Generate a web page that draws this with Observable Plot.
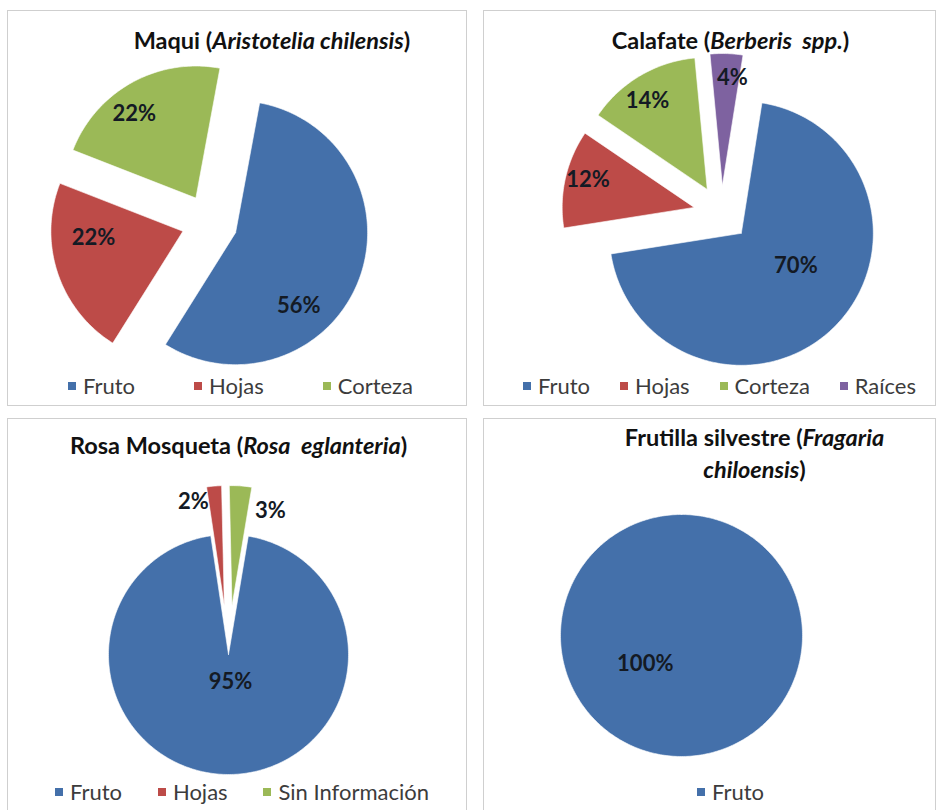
<!DOCTYPE html>
<html><head><meta charset="utf-8">
<script src="https://cdn.jsdelivr.net/npm/d3@7"></script>
<script src="https://cdn.jsdelivr.net/npm/@observablehq/plot@0.6"></script>
<style>
html,body{margin:0;padding:0;background:#fff;width:940px;height:810px;overflow:hidden;font-family:Lato,sans-serif;}
.panel{position:absolute;border:1px solid #cfcfcf;box-sizing:border-box;background:#fff;}
.title{position:absolute;text-align:center;font-weight:bold;font-size:23.5px;color:#111;line-height:24px;white-space:nowrap;}
.title div{display:block;}
.plotwrap{position:absolute;left:0;}
.plotwrap svg{display:block;}
.legend{position:absolute;left:0;right:0;display:flex;justify-content:space-between;font-size:22px;color:#3c3c3c;line-height:24px;box-sizing:border-box;}
.legend .item{display:flex;align-items:center;white-space:nowrap;}
.legend .sw{width:8px;height:8px;margin-right:7px;}
</style></head><body>
<div id="root"></div>
<script>
// ---- data ----
const maquiCats = ["Fruto", "Hojas", "Corteza"];
const maquiVals = [56, 22, 22];
const calafateCats = ["Fruto", "Hojas", "Corteza", "Raíces"];
const calafateVals = [70, 12, 14, 4];
const rosaCats = ["Fruto", "Hojas", "Sin Información"];
const rosaVals = [95, 2, 3];
const frutillaCats = ["Fruto"];
const frutillaVals = [100];
const commonNames = ["Maqui", "Calafate", "Rosa Mosqueta", "Frutilla silvestre"];
const sciNames = ["Aristotelia chilensis", "Berberis  spp.", "Rosa  eglanteria", "Fragaria chiloensis"];
const catColors = {"Fruto": "#4470aa", "Hojas": "#bd4b48", "Corteza": "#9bb957", "Raíces": "#7e62a0", "Sin Información": "#9bb957"};

// ---- layout (page pixels) ----
const layouts = [
  {box:{x:7,y:10,w:460,h:396}, titleH:44, titlePad:17, titleDx:35, breakAfter:null, legendTop:363, legendPad:[60,53],
   cx:209, cy:222, r:132, start:10.5, explode:[28,28,28], labels:[[27.8,.73],[13.8,.68],[-7.1,.79]]},
  {box:{x:483,y:10,w:453,h:396}, titleH:38, titlePad:17, titleDx:21, breakAfter:null, legendTop:363, legendPad:[39,19],
   cx:721, cy:213, r:132, start:9, explode:[28,28,28,28], labels:[[-14.5,.48],[1.8,.83],[-3.4,.81],[3.5,.82]]},
  {box:{x:7,y:418,w:460,h:400}, titleH:44, titlePad:14, titleDx:1.5, breakAfter:null, legendTop:361, legendPad:[47,37],
   cx:228, cy:654, r:120, start:9.5, explode:[0,49,49], labels:[[-4.5,.23],[-11.8,.9],[18,.85]]},
  {box:{x:483,y:418,w:453,h:400}, titleH:68, titlePad:2, titleDx:45, breakAfter:1, legendTop:361, legendPad:[213,0],
   cx:681, cy:635, r:121, start:0, explode:[0], labels:[[52,.38]]}
];
const seriesCats = [maquiCats, calafateCats, rosaCats, frutillaCats];
const seriesVals = [maquiVals, calafateVals, rosaVals, frutillaVals];

const rad = Math.PI / 180;
function pieGeometry(cats, vals, L) {
  const total = d3.sum(vals);
  let cum = 0;
  const pts = [], labels = [];
  vals.forEach((v, i) => {
    const a0 = L.start + cum / total * 360; cum += v;
    const a1 = L.start + cum / total * 360;
    const bis = (a0 + a1) / 2;
    const ex = L.explode[i];
    const cx = L.cx + ex * Math.sin(bis * rad), cy = L.cy - ex * Math.cos(bis * rad);
    const full = v === total;
    if (!full) pts.push({cat: cats[i], x: cx, y: cy});
    const n = Math.max(4, Math.ceil(a1 - a0));
    for (let k = 0; k <= n; k++) {
      const a = (a0 + (a1 - a0) * k / n) * rad;
      pts.push({cat: cats[i], x: cx + L.r * Math.sin(a), y: cy - L.r * Math.cos(a)});
    }
    if (!full) pts.push({cat: cats[i], x: cx, y: cy});
    const [dl, fr] = L.labels[i];
    const la = (bis + dl) * rad;
    labels.push({cat: cats[i], text: v + "%", x: cx + fr * L.r * Math.sin(la), y: cy - fr * L.r * Math.cos(la)});
  });
  return {pts, labels};
}

const root = document.getElementById("root");
layouts.forEach((L, p) => {
  const cats = seriesCats[p], vals = seriesVals[p];
  const panel = document.createElement("div");
  panel.className = "panel";
  Object.assign(panel.style, {left: L.box.x + "px", top: L.box.y + "px", width: L.box.w + "px", height: L.box.h + "px"});
  root.appendChild(panel);
  const innerW = L.box.w - 2;

  // title
  const t = document.createElement("div");
  t.className = "title";
  Object.assign(t.style, {top: L.titlePad + "px", width: innerW + "px", left: L.titleDx + "px"});
  const sci = sciNames[p].split(" ");
  if (L.breakAfter == null) {
    t.innerHTML = `${commonNames[p]} (<i>${sciNames[p].replace(/  /g, "&nbsp; ")}</i>)`;
  } else {
    t.style.lineHeight = "32px";
    const a = sci.slice(0, L.breakAfter).join(" "), b = sci.slice(L.breakAfter).join(" ");
    t.innerHTML = `<div>${commonNames[p]} (<i>${a}</i></div><div><i>${b}</i>)</div>`;
  }
  panel.appendChild(t);

  // plot
  const ox = L.box.x + 1, oy = L.box.y + 1 + L.titleH;
  const h = L.legendTop - L.titleH;
  const {pts, labels} = pieGeometry(cats, vals, L);
  const chart = Plot.plot({
    width: innerW, height: h, margin: 0,
    x: {domain: [ox, ox + innerW], range: [0, innerW], axis: null},
    y: {domain: [oy, oy + h], range: [0, h], axis: null},
    color: {domain: cats, range: cats.map(c => catColors[c])},
    style: {background: "transparent", overflow: "visible"},
    marks: [
      Plot.line(pts, {x: "x", y: "y", z: "cat", fill: "cat", stroke: "#ffffff", strokeWidth: 0.6, curve: "linear"}),
      Plot.text(labels, {x: "x", y: "y", text: "text", fontSize: 22, fontWeight: "bold", fill: "#141a24", fontFamily: "Lato"})
    ]
  });
  const wrap = document.createElement("div");
  wrap.className = "plotwrap";
  wrap.style.top = L.titleH + "px";
  wrap.appendChild(chart);
  panel.appendChild(wrap);

  // legend
  const lg = document.createElement("div");
  lg.className = "legend";
  Object.assign(lg.style, {top: L.legendTop + "px", paddingLeft: L.legendPad[0] + "px", paddingRight: L.legendPad[1] + "px"});
  cats.forEach(c => {
    const it = document.createElement("span");
    it.className = "item";
    it.innerHTML = `<span class="sw" style="background:${catColors[c]}"></span>${c}`;
    lg.appendChild(it);
  });
  panel.appendChild(lg);
});
</script></body></html>
